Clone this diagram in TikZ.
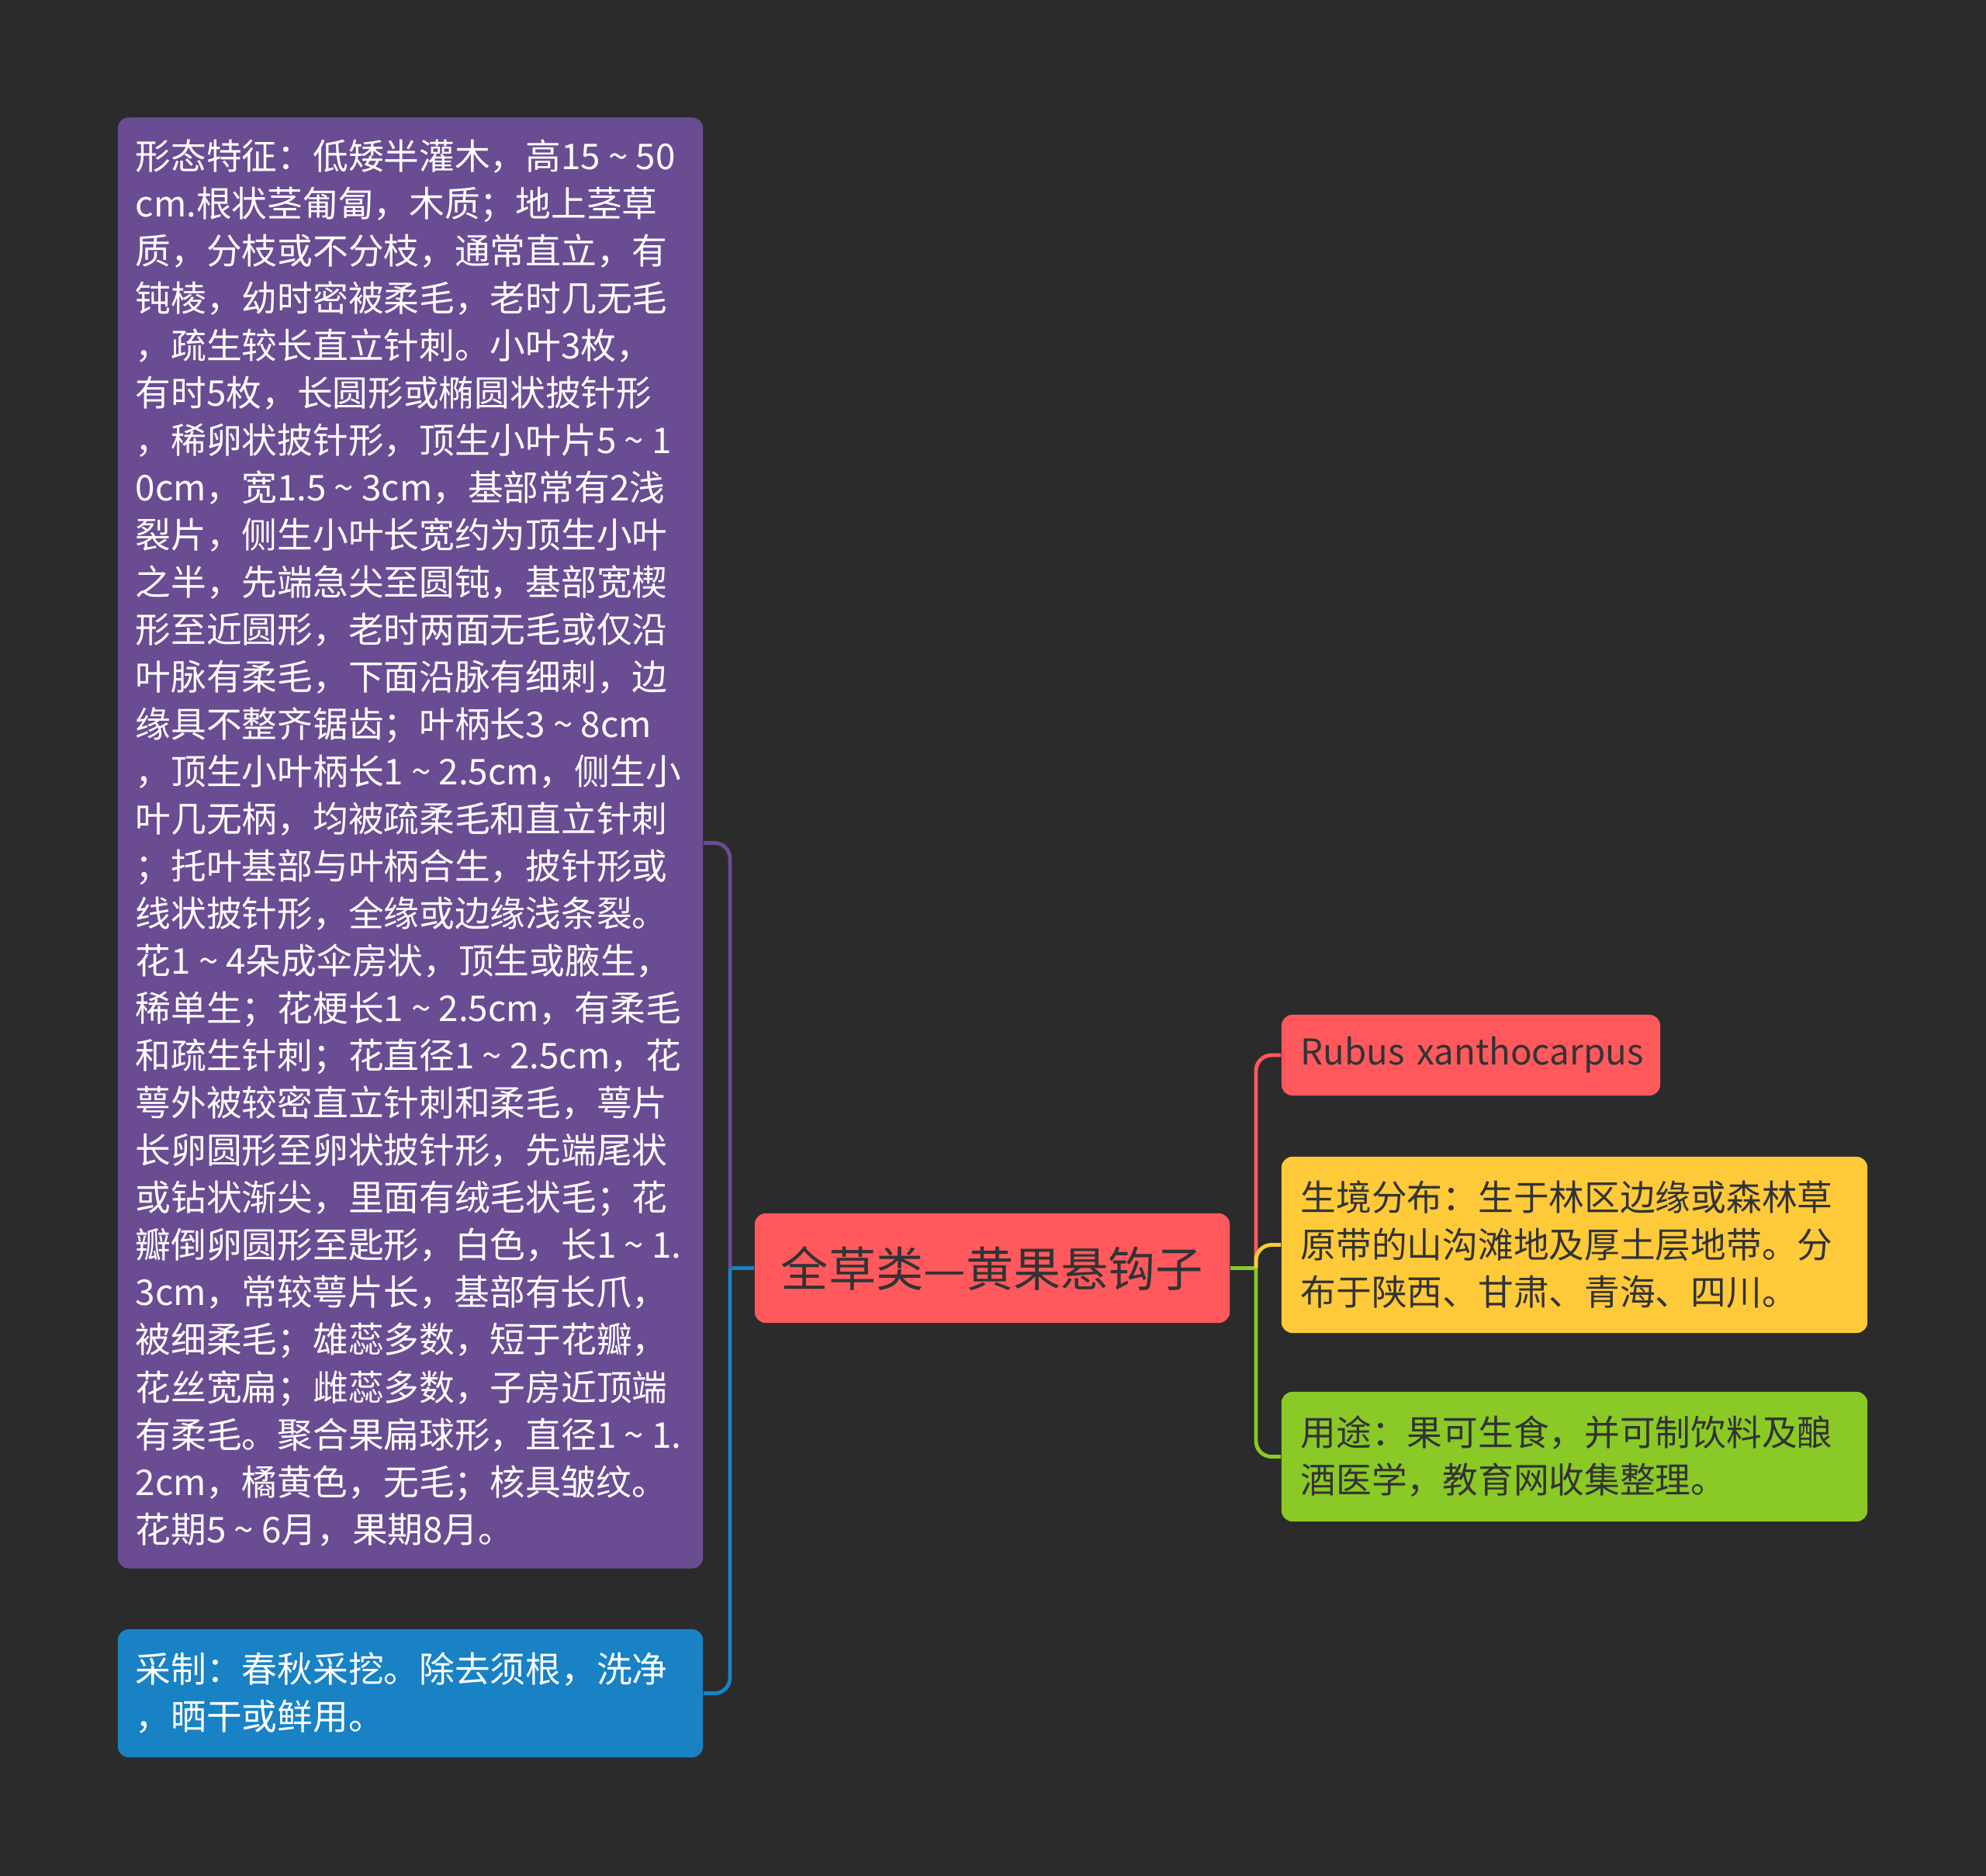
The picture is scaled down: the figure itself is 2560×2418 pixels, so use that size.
\documentclass[tikz,border=0pt]{standalone}
\usepackage{fontspec}
\setmainfont{Noto Sans CJK SC}
\definecolor{bgc}{HTML}{2B2B2B}
\definecolor{cpurple}{HTML}{6A4C93}
\definecolor{cblue}{HTML}{1982C4}
\definecolor{cred}{HTML}{FF595E}
\definecolor{cyellow}{HTML}{FFCA3A}
\definecolor{cgreen}{HTML}{8AC926}
\definecolor{darktext}{HTML}{333333}
\newcommand{\tld}{\makebox[1em]{\textasciitilde}}
\begin{document}
\begin{tikzpicture}[x=0.01cm,y=-0.01cm,
  box/.style={rectangle, rounded corners=4pt, inner xsep=0.25cm, inner ysep=0pt, align=left,
    font=\fontsize{13}{17.35}\selectfont},
  conn/.style={line width=1.4pt, rounded corners=5.7pt}]
\fill[bgc] (0,0) rectangle (2560,2418);
\useasboundingbox (0,0) rectangle (2560,2418);

\node[box, fill=cred, text=darktext, align=center, inner xsep=0pt, minimum width=6.12cm, minimum height=1.41cm,
  font=\fontsize{17.4}{20}\selectfont] (root) at (1279,1634.5) {全草类—黄果悬钩子};

\node[box, fill=cpurple, text=white, inner xsep=0.23cm, text width=7.08cm, minimum width=7.54cm, minimum height=18.69cm] (shape) at (529,1086.5) {形态特征：低矮半灌木，高15\tld 50\\
cm.根状茎匍匐，木质；地上茎草\\
质，分枝或不分枝，通常直立，有\\
钝棱，幼时密被柔毛，老时几无毛\\
，疏生较长直立针刺。小叶3枚，\\
有时5枚，长圆形或椭圆状披针形\\
，稀卵状披针形，顶生小叶片5\tld 1\\
0cm，宽1.5\tld 3cm，基部常有2浅\\
裂片，侧生小叶长宽约为顶生小叶\\
之半，先端急尖至圆钝，基部宽楔\\
形至近圆形，老时两面无毛或仅沿\\
叶脉有柔毛，下面沿脉有细刺，边\\
缘具不整齐锯齿；叶柄长3\tld 8cm\\
，顶生小叶柄长1\tld 2.5cm，侧生小\\
叶几无柄，均被疏柔毛和直立针刺\\
；托叶基部与叶柄合生，披针形或\\
线状披针形，全缘或边缘浅条裂。\\
花1\tld 4朵成伞房状，顶生或腋生，\\
稀单生；花梗长1\tld 2.5cm，有柔毛\\
和疏生针刺；花直径1\tld 2.5cm，花\\
萼外被较密直立针刺和柔毛，萼片\\
长卵圆形至卵状披针形，先端尾状\\
或钻状渐尖，里面有绒毛状毛；花\\
瓣倒卵圆形至匙形，白色，长1\tld 1.\\
3cm，常较萼片长，基部有长爪，\\
被细柔毛；雄蕊多数，短于花瓣，\\
花丝宽扁；雌蕊多数，子房近顶端\\
有柔毛。聚合果扁球形，直径1\tld 1.\\
2cm，橘黄色，无毛；核具皱纹。\\
花期5\tld 6月，果期8月。};

\node[box, fill=cblue, text=white, inner xsep=0.23cm, text width=7.08cm, minimum width=7.54cm, minimum height=1.65cm] (make) at (529,2182.5) {采制：春秋采挖。除去须根，洗净\\
，晒干或鲜用。};

\node[box, fill=cred, text=darktext, text width=4.38cm, minimum width=4.88cm, minimum height=1.04cm] (latin) at (1896,1360) {\mbox{Rubus xanthocarpus}};

\node[box, fill=cyellow, text=darktext, text width=7.05cm, minimum width=7.55cm, minimum height=2.27cm] (habitat) at (2029.5,1604.5) {生境分布：生于林区边缘或森林草\\
原带的山沟滩地及厚土层地带。分\\
布于陕西、甘肃、青海、四川。};

\node[box, fill=cgreen, text=darktext, text width=7.05cm, minimum width=7.55cm, minimum height=1.67cm] (use) at (2029.5,1877.5) {用途：果可生食，并可制饮料及酿\\
酒医学，教育网收集整理。};

% left connectors
\coordinate (jl) at (941,1634.5);
\draw[conn, cblue] (root.west) -- (jl);
\draw[conn, cpurple] (jl) |- (shape.east);
\draw[conn, cblue] (jl) |- (make.east);
% right connectors
\coordinate (jr) at (1619,1634.5);
\draw[conn, cgreen] (root.east) -- (jr);
\draw[conn, cred] (jr) |- (latin.west);
\draw[conn, cyellow] (jr) |- (habitat.west);
\draw[conn, cgreen] (jr) |- (use.west);
\end{tikzpicture}
\end{document}
